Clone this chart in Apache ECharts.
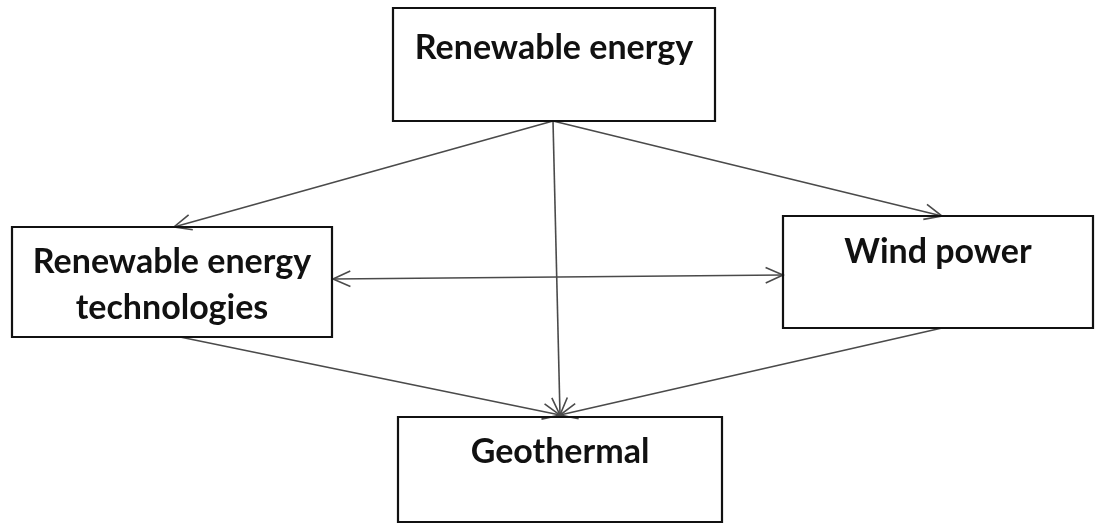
<!DOCTYPE html>
<html>
<head>
<meta charset="utf-8">
<script src="https://cdn.jsdelivr.net/npm/echarts@6/dist/echarts.min.js"></script>
<style>
  html, body { margin: 0; padding: 0; background: #fff; }
  #main { width: 1097px; height: 525px; }
</style>
</head>
<body>
<div id="main"></div>
<script>
// nodes of the diagram
var nodeNames = ['Renewable energy', 'Renewable energy\ntechnologies', 'Wind power', 'Geothermal'];
// box extents in diagram units (same as pixels of the reference)
var boxLeft = [393, 12, 783, 398];
var boxTop = [8, 227, 216, 417];
var boxRight = [715, 332, 1093, 722];
var boxBottom = [121, 337, 328, 522];
var labelY = [48, 285, 252, 452];

// arrows: start point, end point, heads ('end' or 'both')
var edgeFrom = [[553, 121], [553, 121], [553, 121], [180, 337], [942, 328], [333, 279]];
var edgeTo = [[174, 227], [942, 216], [560, 415], [560, 415], [560, 415], [783, 275]];
var edgeHeads = ['end', 'end', 'end', 'end', 'end', 'both'];

var chartDom = document.getElementById('main');
var myChart = echarts.init(chartDom);

var boxData = nodeNames.map(function (n, i) {
  return [boxLeft[i], boxTop[i], boxRight[i], boxBottom[i], labelY[i]];
});
var edgeData = edgeFrom.map(function (p, i) {
  return [p[0], p[1], edgeTo[i][0], edgeTo[i][1]];
});

function headLines(from, to, len, ang) {
  var a = Math.atan2(from[1] - to[1], from[0] - to[0]);
  var p1 = [to[0] + len * Math.cos(a + ang), to[1] + len * Math.sin(a + ang)];
  var p2 = [to[0] + len * Math.cos(a - ang), to[1] + len * Math.sin(a - ang)];
  return [p1, to, p2];
}

var option = {
  animation: false,
  grid: { left: 0, right: 0, top: 0, bottom: 0 },
  xAxis: { type: 'value', min: 0, max: 1097, show: false },
  yAxis: { type: 'value', min: 0, max: 525, inverse: true, show: false },
  series: [
    {
      type: 'custom',
      name: 'links',
      data: edgeData,
      z: 1,
      renderItem: function (params, api) {
        var a = api.coord([api.value(0), api.value(1)]);
        var b = api.coord([api.value(2), api.value(3)]);
        var style = { stroke: '#4a4a4a', lineWidth: 1.6, fill: null };
        var children = [
          { type: 'line', shape: { x1: a[0], y1: a[1], x2: b[0], y2: b[1] }, style: style },
          { type: 'polyline', shape: { points: headLines(a, b, 19, 0.42) }, style: style }
        ];
        if (edgeHeads[params.dataIndex] === 'both') {
          children.push({ type: 'polyline', shape: { points: headLines(b, a, 19, 0.42) }, style: style });
        }
        return { type: 'group', children: children };
      }
    },
    {
      type: 'custom',
      name: 'boxes',
      data: boxData,
      z: 2,
      renderItem: function (params, api) {
        var p0 = api.coord([api.value(0), api.value(1)]);
        var p1 = api.coord([api.value(2), api.value(3)]);
        var ty = api.coord([0, api.value(4)])[1];
        return {
          type: 'group',
          children: [
            {
              type: 'rect',
              shape: { x: p0[0], y: p0[1], width: p1[0] - p0[0], height: p1[1] - p0[1] },
              style: { fill: 'rgba(255,255,255,0)', stroke: '#111', lineWidth: 2.2 }
            },
            {
              type: 'text',
              style: {
                x: (p0[0] + p1[0]) / 2,
                y: ty,
                text: nodeNames[params.dataIndex],
                align: 'center',
                verticalAlign: 'middle',
                fill: '#111',
                font: 'bold 34px Lato',
                lineHeight: 46
              }
            }
          ]
        };
      }
    }
  ]
};

option && myChart.setOption(option);
</script>
</body>
</html>
